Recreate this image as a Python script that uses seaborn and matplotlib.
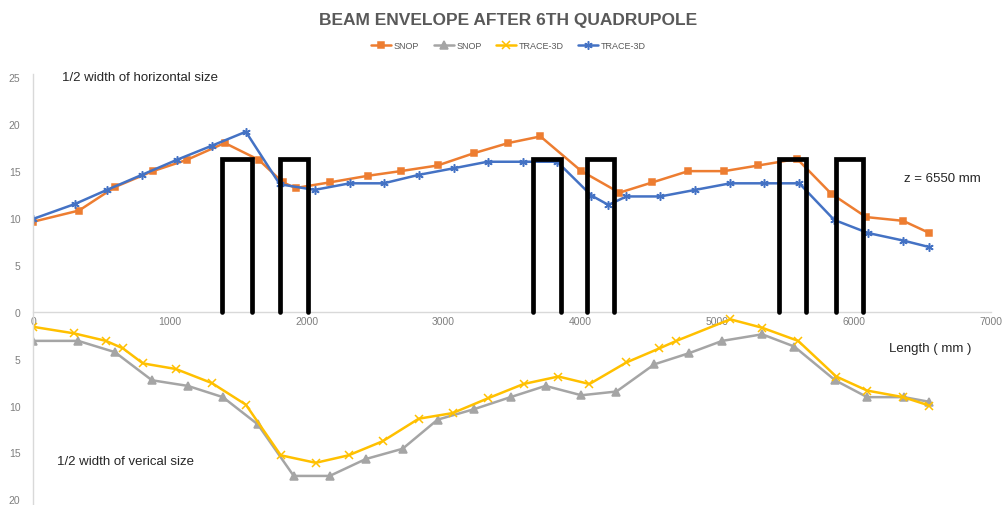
import matplotlib
matplotlib.use('Agg')
import matplotlib.pyplot as plt
import numpy as np
import pandas as pd
import seaborn as sns

# horizontal half width (mm) along the line
snop_h_z = [0, 336, 598, 876, 1124, 1401, 1650, 1825, 1920, 2168, 2445, 2686, 2956, 3219,
            3474, 3708, 4007, 4285, 4526, 4788, 5051, 5299, 5584, 5832, 6088, 6358, 6550]
snop_h = [9.6, 10.8, 13.3, 15.0, 16.2, 18.0, 16.2, 13.8, 13.2, 13.8, 14.5, 15.0, 15.6, 16.9,
          18.0, 18.7, 15.0, 12.7, 13.8, 15.0, 15.0, 15.6, 16.3, 12.6, 10.1, 9.7, 8.4]

trace_h_z = [0, 307, 540, 795, 1050, 1305, 1555, 1803, 2058, 2314, 2562, 2818, 3073, 3321,
             3577, 3830, 4080, 4204, 4336, 4584, 4839, 5095, 5343, 5599, 5854, 6102, 6358, 6550]
trace_h = [9.9, 11.5, 13.0, 14.6, 16.2, 17.7, 19.2, 13.6, 13.0, 13.7, 13.7, 14.6, 15.3, 16.0,
           16.0, 16.0, 12.4, 11.4, 12.3, 12.3, 13.0, 13.7, 13.7, 13.7, 9.8, 8.4, 7.6, 6.9]

# vertical half width (mm), drawn below the axis
snop_v_z = [0, 330, 598, 869, 1131, 1387, 1642, 1905, 2168, 2431, 2701, 2956, 3219, 3489,
            3745, 4007, 4263, 4540, 4796, 5036, 5328, 5562, 5861, 6095, 6365, 6550]
snop_v = [3.1, 3.1, 4.3, 7.3, 7.9, 9.1, 12.0, 17.5, 17.5, 15.7, 14.6, 11.5, 10.4, 9.1,
          7.9, 8.9, 8.5, 5.6, 4.4, 3.1, 2.4, 3.7, 7.3, 9.1, 9.1, 9.6]

trace_v_z = [0, 300, 533, 657, 803, 1044, 1307, 1555, 1810, 2066, 2306, 2555, 2818, 3066,
             3328, 3584, 3839, 4066, 4336, 4577, 4701, 5095, 5328, 5591, 5869, 6095, 6358, 6550]
trace_v = [1.6, 2.3, 3.1, 3.9, 5.5, 6.1, 7.6, 9.9, 15.3, 16.1, 15.3, 13.8, 11.4, 10.8,
           9.2, 7.7, 6.9, 7.7, 5.4, 3.9, 3.1, 0.8, 1.7, 3.1, 6.9, 8.4, 9.1, 10.0]

# quadrupoles
quad_start = [1380, 1803, 3650, 4051, 5453, 5869]
quad_end = [1600, 2007, 3855, 4248, 5650, 6066]
quad_top = 16.3

sns.set_theme(style='white')
plt.rcParams['font.family'] = ['Liberation Sans', 'DejaVu Sans']

fig = plt.figure(figsize=(10.07, 5.06), dpi=100)
ax = fig.add_axes([0.0328, 0.0, 0.9513, 0.8526])

series = [
    (snop_h_z, snop_h, 1, '#ED7D31', 's', 'SNOP', 5),
    (snop_v_z, snop_v, -1, '#A5A5A5', '^', 'SNOP', 6),
    (trace_v_z, trace_v, -1, '#FFC000', 'x', 'TRACE-3D', 5.5),
    (trace_h_z, trace_h, 1, '#4472C4', (6, 2, 0), 'TRACE-3D', 6),
]
for z, w, sign, color, marker, label, ms in series:
    df = pd.DataFrame({'z': z, 'w': np.array(w) * sign})
    sns.lineplot(data=df, x='z', y='w', ax=ax, color=color, lw=1.8, marker=marker,
                 markersize=ms, markeredgecolor=color, markeredgewidth=1.1, sort=False,
                 label=label)
ax.get_legend().remove()

# quadrupole outlines
for x1, x2 in zip(quad_start, quad_end):
    ax.plot([x1, x1, x2, x2], [0, quad_top, quad_top, 0], color='black', lw=3.4,
            solid_joinstyle='miter', zorder=5)

ax.set_xlim(0, 7000)
ax.set_ylim(-20.6, 25.4)
ax.set_xlabel('')
ax.set_ylabel('')

ax.set_xticks(np.arange(0, 7001, 1000))
yt = np.arange(-20, 26, 5)
ax.set_yticks(yt)
ax.set_yticklabels([str(abs(v)) for v in yt])
ax.tick_params(axis='both', length=0, labelsize=7.5, labelcolor='#7F7F7F')
ax.tick_params(axis='y', pad=9)
ax.tick_params(axis='x', pad=3)

for s in ['top', 'right']:
    ax.spines[s].set_visible(False)
ax.spines['bottom'].set_position(('data', 0))
ax.spines['bottom'].set_color('#D9D9D9')
ax.spines['left'].set_color('#D9D9D9')
ax.spines['bottom'].set_linewidth(1)
ax.spines['left'].set_linewidth(1)

# annotations
ax.text(212, 25.0, '1/2 width of horizontal size', fontsize=9.5, va='center', color='#262626')
ax.text(175, -15.9, '1/2 width of verical size', fontsize=9.5, va='center', color='#262626')
ax.text(6365, 14.3, 'z = 6550 mm', fontsize=9.5, va='center', color='#262626')
ax.text(6255, -3.9, 'Length ( mm )', fontsize=9.5, va='center', color='#262626')

fig.suptitle('BEAM ENVELOPE AFTER 6TH QUADRUPOLE', x=0.505, y=0.975, fontsize=12.5,
             fontweight='bold', color='#595959')

h, l = ax.get_legend_handles_labels()
fig.legend(h, l, loc='center', bbox_to_anchor=(0.505, 0.908), ncol=4, frameon=False,
           fontsize=6.5, handlelength=2.2, columnspacing=1.6, handletextpad=0.3,
           labelcolor='#595959')

fig.savefig('out.png', dpi=100)
